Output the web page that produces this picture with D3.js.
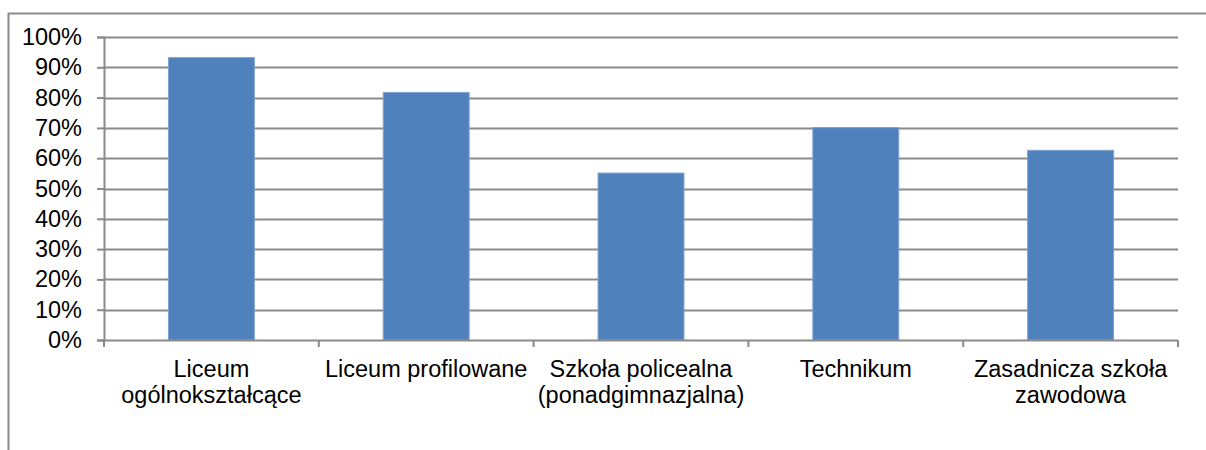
<!DOCTYPE html>
<html>
<head>
<meta charset="utf-8">
<script src="https://cdn.jsdelivr.net/npm/d3@7"></script>
<style>
  body { margin: 0; background: #fff; }
  svg { display: block; }
  text { font-family: "Liberation Sans", Arial, sans-serif; fill: #000; }
</style>
</head>
<body>
<div id="container"></div>
<script>
// chart size
let w = 1206;
let h = 450;

// data
let categories = ["Liceum ogólnokształcące", "Liceum profilowane", "Szkoła policealna (ponadgimnazjalna)", "Technikum", "Zasadnicza szkoła zawodowa"];
let labelLines = [["Liceum", "ogólnokształcące"], ["Liceum profilowane"], ["Szkoła policealna", "(ponadgimnazjalna)"], ["Technikum"], ["Zasadnicza szkoła", "zawodowa"]];
let values = [0.932, 0.817, 0.551, 0.701, 0.626];
let yTicks = [0, 0.1, 0.2, 0.3, 0.4, 0.5, 0.6, 0.7, 0.8, 0.9, 1];

// plot area
let plotLeft = 104, plotRight = 1178, plotTop = 37, plotBottom = 340;
let fontSize = 23.5;

let svg = d3.select("#container")
  .append("svg")
  .attr("width", w)
  .attr("height", h);

// outer frame (runs off the right and bottom edges)
svg.append("rect")
  .attr("x", 8.5)
  .attr("y", 13.5)
  .attr("width", 1300)
  .attr("height", 500)
  .attr("fill", "none")
  .attr("stroke", "#8a8a8a")
  .attr("stroke-width", 2);

let x = d3.scaleBand()
  .domain(categories)
  .range([plotLeft, plotRight])
  .paddingInner(0.6)
  .paddingOuter(0.3);

let y = d3.scaleLinear()
  .domain([0, 1])
  .range([plotBottom, plotTop]);

// gridlines
svg.append("g")
  .selectAll("line")
  .data(yTicks.slice(1))
  .enter()
  .append("line")
    .attr("x1", plotLeft)
    .attr("x2", plotRight)
    .attr("y1", d => Math.round(y(d)) + 0.5)
    .attr("y2", d => Math.round(y(d)) + 0.5)
    .attr("stroke", "#8a8a8a")
    .attr("stroke-width", 2);

// bars
svg.append("g")
  .selectAll("rect")
  .data(values)
  .enter()
  .append("rect")
    .attr("x", (d, i) => x(categories[i]))
    .attr("y", d => y(d))
    .attr("width", x.bandwidth())
    .attr("height", d => plotBottom - y(d))
    .attr("fill", "#4f81bd")
    .attr("stroke", "#7fa3d1")
    .attr("stroke-width", 1);

// y axis
let yAxis = svg.append("g")
  .attr("transform", "translate(" + plotLeft + ",0)")
  .call(d3.axisLeft(y).tickValues(yTicks).tickFormat(d3.format(".0%")).tickSize(7).tickPadding(15));
yAxis.select(".domain").attr("stroke", "#8a8a8a").attr("stroke-width", 2);
yAxis.selectAll(".tick line").attr("stroke", "#8a8a8a").attr("stroke-width", 2);
yAxis.selectAll(".tick text")
  .attr("font-size", fontSize)
  .attr("font-family", "Liberation Sans, Arial, sans-serif")
  .attr("fill", "#000");

// x axis baseline and ticks at category boundaries
let step = x.step();
let bounds = d3.range(categories.length + 1).map(i => plotLeft + i * step);
svg.append("line")
  .attr("x1", plotLeft)
  .attr("x2", plotRight)
  .attr("y1", plotBottom + 0.5)
  .attr("y2", plotBottom + 0.5)
  .attr("stroke", "#8a8a8a")
  .attr("stroke-width", 2);
svg.append("g")
  .selectAll("line")
  .data(bounds)
  .enter()
  .append("line")
    .attr("x1", d => d)
    .attr("x2", d => d)
    .attr("y1", plotBottom)
    .attr("y2", plotBottom + 7)
    .attr("stroke", "#8a8a8a")
    .attr("stroke-width", 2);

// category labels
let labels = svg.append("g")
  .selectAll("text")
  .data(categories)
  .enter()
  .append("text")
    .attr("x", d => x(d) + x.bandwidth() / 2)
    .attr("y", 377)
    .attr("text-anchor", "middle")
    .attr("font-size", fontSize);

labels.each(function(d, i) {
  let t = d3.select(this);
  labelLines[i].forEach((line, j) => {
    t.append("tspan")
      .attr("x", x(d) + x.bandwidth() / 2)
      .attr("dy", j == 0 ? 0 : 26)
      .text(line);
  });
});
</script>
</body>
</html>
